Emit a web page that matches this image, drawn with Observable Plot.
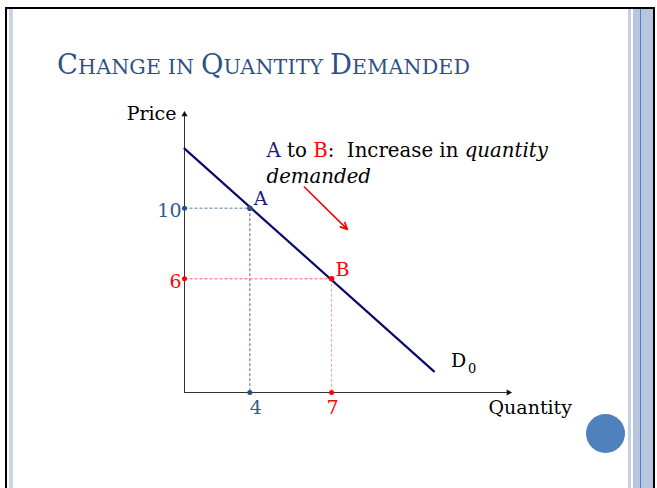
<!DOCTYPE html>
<html><head><meta charset="utf-8">
<script src="https://cdn.jsdelivr.net/npm/d3@7"></script>
<script src="https://cdn.jsdelivr.net/npm/@observablehq/plot@0.6"></script>
<style>
html,body{margin:0;padding:0;background:#fff;}
#slide{position:relative;width:657px;height:488px;overflow:hidden;background:#fff;}
.abs{position:absolute;}
#chart{position:absolute;left:0;top:0;}
</style></head><body>
<div id="slide">
  <div class="abs" style="left:5px;top:7px;width:646px;height:600px;border-left:2px solid #000;border-top:2px solid #000;border-right:2px solid #000;"></div>
  <div class="abs" style="left:9px;top:9px;width:4px;height:480px;background:#c8d5ea;"></div>
  <div class="abs" style="left:627.5px;top:9px;width:3px;height:480px;background:#c3cfe5;"></div>
  <div class="abs" style="left:633px;top:9px;width:20px;height:480px;background:#b7c5df;"></div>
  <div class="abs" style="left:640px;top:9px;width:1.3px;height:480px;background:#4f7fc2;"></div>
  <div class="abs" style="left:586px;top:414px;width:39px;height:39px;border-radius:50%;background:#4f81bd;"></div>
  <div id="chart"></div>
</div>
<script>
// ---- data ----
const titleText = "Change in Quantity Demanded";
const priceTicks = [10, 6];
const quantityTicks = [4, 7];
const pointNames = ["A", "B"];
const demandQ = [1.6, 10.76];
const demandP = [13.37, 0.76];
const shiftQ = [6.0, 7.58];
const shiftP = [11.2, 8.8];
const axisQ = [1.6, 13.57];
const axisP = [-0.44, 15.42];
const axisTitles = ["Price", "Quantity"];
const curveName = ["D", "0"];

// ---- styles ----
const pointColors = ["#2b4c7e", "#ff0000"];
const labelColors = ["#1c1c78", "#ff0000"];
const tickColors = ["#34598f", "#ff0000"];
const guideColors = ["#56779f", "#ff5a5a"];
const guideVColors = ["#4a6a98", "#ff9a9a"];
const xLabelDx = [6, 1];
const FONT = '"DejaVu Serif", "Liberation Serif", serif';

const pts = pointNames.map((name, i) => ({name, q: quantityTicks[i], p: priceTicks[i]}));
const demand = demandQ.map((q, i) => ({q, p: demandP[i]}));
const shift = [{x1: shiftQ[0], y1: shiftP[0], x2: shiftQ[1], y2: shiftP[1]}];

const marks = [
  Plot.ruleY([axisP[0]], {x1: axisQ[0], x2: axisQ[1], stroke: "#333", strokeWidth: 1}),
  Plot.ruleX([axisQ[0]], {y1: axisP[0], y2: axisP[1], stroke: "#333", strokeWidth: 1}),
  Plot.dot([0], {x: axisQ[1], y: axisP[0], symbol: "triangle", rotate: 90, r: 2.3, fill: "#111", stroke: "none", dx: -2}),
  Plot.dot([0], {x: axisQ[0], y: axisP[1], symbol: "triangle", r: 2.3, fill: "#111", stroke: "none", dy: 2})
];
pts.forEach((pt, i) => {
  marks.push(
    Plot.link([pt], {x1: axisQ[0], y1: "p", x2: "q", y2: "p", stroke: guideColors[i], strokeWidth: 1, strokeDasharray: "3,2"}),
    Plot.link([pt], {x1: "q", y1: "p", x2: "q", y2: axisP[0], stroke: guideVColors[i], strokeWidth: 1, strokeDasharray: "3,2"})
  );
});
marks.push(Plot.line(demand, {x: "q", y: "p", stroke: "#0a0a6b", strokeWidth: 2.2}));
marks.push(Plot.arrow(shift, {x1: "x1", y1: "y1", x2: "x2", y2: "y2", stroke: "#ff0000", strokeWidth: 1.6, headLength: 7, headAngle: 50}));
pts.forEach((pt, i) => {
  marks.push(
    Plot.dot([pt], {x: "q", y: "p", r: 2.8, fill: pointColors[i], stroke: "none"}),
    Plot.dot([pt], {x: axisQ[0], y: "p", r: 2.5, fill: pointColors[i], stroke: "none"}),
    Plot.dot([pt], {x: "q", y: axisP[0], r: 2.5, fill: pointColors[i], stroke: "none"}),
    Plot.text([pt], {x: axisQ[0], y: "p", text: d => String(d.p), textAnchor: "end", dx: -3, dy: 3, fill: tickColors[i], fontSize: 19, fontFamily: FONT}),
    Plot.text([pt], {x: "q", y: axisP[0], text: d => String(d.q), lineAnchor: "top", dy: 8, dx: xLabelDx[i], fill: tickColors[i], fontSize: 19, fontFamily: FONT}),
    Plot.text([pt], {x: "q", y: "p", text: "name", textAnchor: "start", lineAnchor: "bottom", dx: 4, dy: -3, fill: labelColors[i], fontSize: 19, fontFamily: FONT})
  );
});
marks.push(
  Plot.text([axisTitles[0]], {x: axisQ[0], y: axisP[1], text: d => d, textAnchor: "end", lineAnchor: "bottom", dx: -8, dy: 7, fill: "#000", fontSize: 19, fontFamily: FONT}),
  Plot.text([axisTitles[1]], {x: axisQ[1], y: axisP[0], text: d => d, textAnchor: "start", lineAnchor: "bottom", dx: -22, dy: 21, fill: "#000", fontSize: 19, fontFamily: FONT}),
  Plot.text([curveName[0]], {x: demandQ[1], y: demandP[1], text: d => d, textAnchor: "start", lineAnchor: "bottom", dx: 17, dy: -4, fill: "#000", fontSize: 19, fontFamily: FONT}),
  Plot.text([curveName[1]], {x: demandQ[1], y: demandP[1], text: d => d, textAnchor: "start", lineAnchor: "bottom", dx: 34, dy: 2, fill: "#000", fontSize: 13, fontFamily: FONT})
);

const svg = Plot.plot({
  width: 657, height: 488,
  marginLeft: 184, marginRight: 147, marginTop: 112, marginBottom: 96,
  x: {domain: axisQ, axis: null},
  y: {domain: axisP, axis: null},
  style: {fontFamily: FONT, background: "transparent", overflow: "visible"},
  marks
});
document.getElementById("chart").appendChild(svg);

// ---- title (small caps: original capitals large, others small) ----
const sel = d3.select(svg);
const t = sel.append("text").attr("x", 57).attr("y", 74.3).attr("fill", "#2c5188")
  .attr("text-anchor", "start").style("font-family", FONT).style("white-space", "pre");
const runs = [];
for (const ch of titleText) {
  const big = ch !== " " && ch === ch.toUpperCase();
  const last = runs[runs.length - 1];
  if (last && last.big === big) last.s += ch; else runs.push({big, s: ch});
}
runs.forEach(r => t.append("tspan").attr("font-size", r.big ? 27.4 : 20.6).style("font-family", FONT).text(r.s.toUpperCase()));
const tw = t.node().getComputedTextLength();
t.attr("letter-spacing", ((470 - 57) - tw) / (titleText.length - 1));

// ---- annotation ----
const ann = sel.append("text").attr("x", 266.5).attr("y", 156.7)
  .attr("text-anchor", "start").style("font-family", FONT).style("font-size", "19px")
  .attr("fill", "#000").style("white-space", "pre");
const seg = (txt, color, italic) => ann.append("tspan")
  .style("font-family", FONT).style("font-style", italic ? "italic" : "normal")
  .attr("fill", color).text(txt);
seg(pointNames[0], labelColors[0], false);
seg(" to ", "#000", false);
seg(pointNames[1], "#ff0000", false);
seg(":  Increase in ", "#000", false);
seg("quantity", "#000", true);
const line1 = ann.selectAll("tspan").nodes().reduce((s, n) => s + n.getComputedTextLength(), 0);
seg("demanded", "#000", true).attr("x", 266.5).attr("dy", 26);
ann.style("font-size", (19 * 281.5 / line1) + "px");
</script>
</body></html>
